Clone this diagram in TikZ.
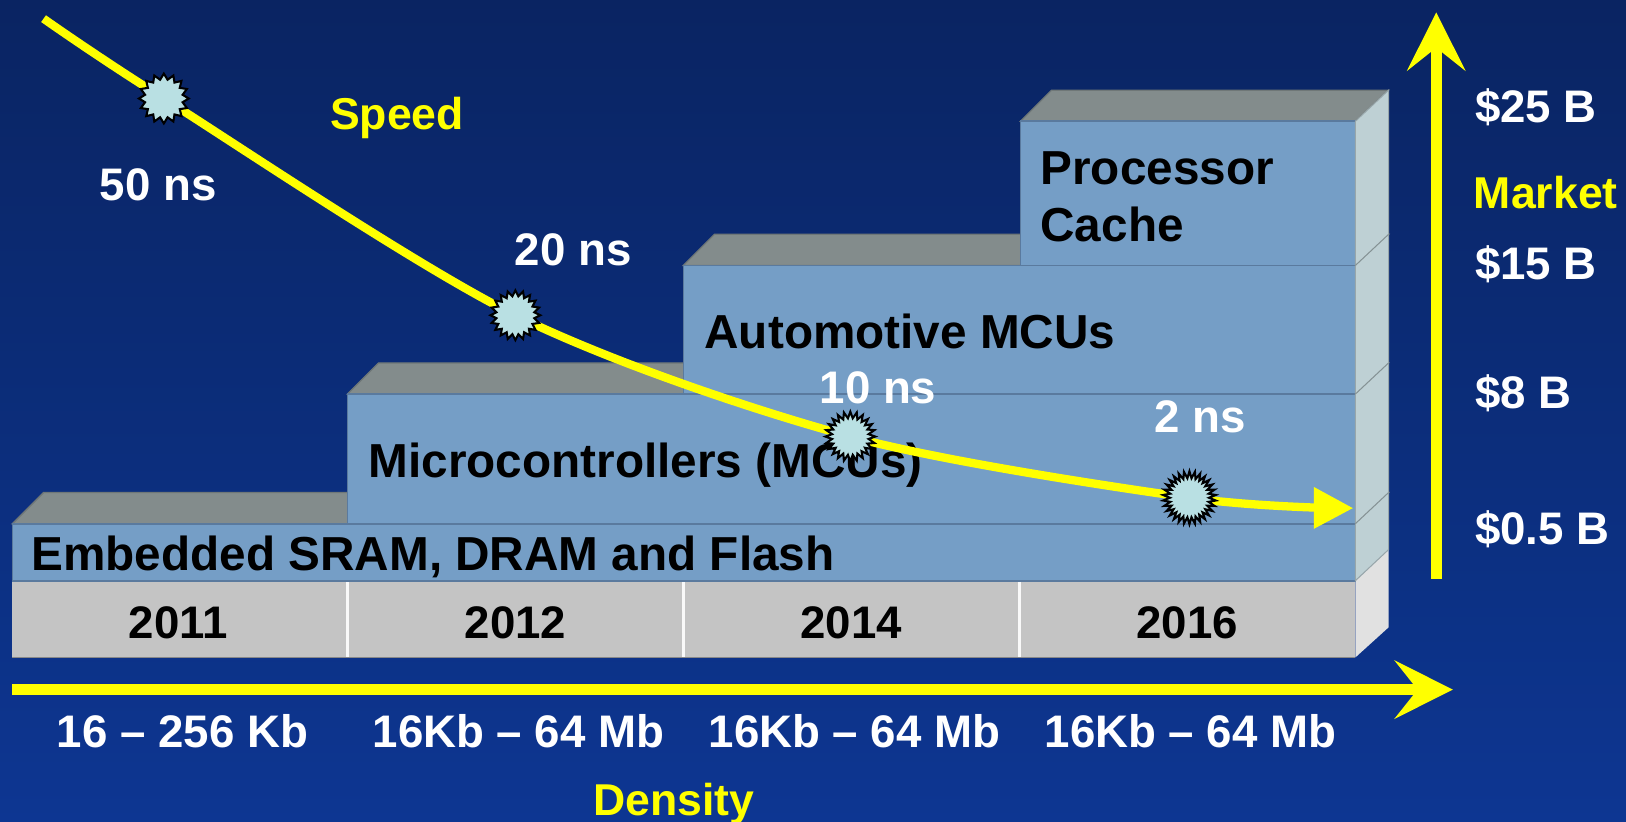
\documentclass[tikz,border=0pt]{standalone}
\usepackage{fontspec}
\setmainfont{Liberation Sans}
\usetikzlibrary{arrows.meta,shapes.geometric}
\definecolor{bgtop}{RGB}{10,36,98}
\definecolor{bgbot}{RGB}{13,54,146}
\definecolor{frontc}{RGB}{117,158,198}
\definecolor{topc}{RGB}{131,140,140}
\definecolor{sidec}{RGB}{190,208,212}
\definecolor{basec}{RGB}{196,196,196}
\definecolor{basesidec}{RGB}{225,225,225}
\definecolor{edgec}{RGB}{90,122,158}
\definecolor{yel}{RGB}{255,255,0}
\definecolor{starc}{RGB}{185,224,227}
\begin{document}
\begin{tikzpicture}[x=0.5pt,y=-0.5pt,
  blk/.style={fill=frontc,draw=edgec,line width=0.8pt},
  topface/.style={fill=topc,draw=topc!85!black,line width=0.6pt},
  sideface/.style={fill=sidec,draw=sidec!80!black,line width=0.5pt},
  blktext/.style={font=\fontsize{23}{27}\selectfont\bfseries,text=black,inner sep=0pt},
  yeartext/.style={font=\fontsize{22}{26}\selectfont\bfseries,text=black,inner sep=0pt},
  wlab/.style={font=\fontsize{22}{26}\selectfont\bfseries,text=white,inner sep=0pt},
  ylab/.style={font=\fontsize{21.5}{26}\selectfont\bfseries,text=yel,inner sep=0pt},
  burst/.style={star,star points=16,star point ratio=1.3,minimum size=24pt,inner sep=0pt,fill=starc,draw=black,line width=1pt},
  axis/.style={draw=yel,line width=5.5pt,-{Stealth[length=28pt,width=28pt,inset=11pt]}},
  speedline/.style={draw=yel,line width=4pt,-{Triangle[length=19pt,width=19pt]}}
]
% background
\shade[top color=bgtop,bottom color=bgbot] (0,0) rectangle (1568,792);
\useasboundingbox (0,0) rectangle (1568,792);

% base (years)
\fill[basec] (12,560) rectangle (1307,634);
\draw[basec!70!black,line width=0.6pt] (12,634) -- (1307,634);
\foreach \xx in {335,659,983}{\draw[white!90!basec,line width=1.2pt] (\xx,560) -- (\xx,634);}
\fill[basesidec] (1307,560) -- (1339,530) -- (1339,605) -- (1307,634) -- cycle;

% embedded block
\filldraw[topface] (12,505) -- (42,475) -- (1339,475) -- (1307,505) -- cycle;
\filldraw[blk] (12,505) rectangle (1307,560);
% MCU block
\filldraw[topface] (335,380) -- (365,350) -- (1339,350) -- (1307,380) -- cycle;
\filldraw[blk] (335,380) rectangle (1307,505);
% automotive block
\filldraw[topface] (659,256) -- (689,226) -- (1339,226) -- (1307,256) -- cycle;
\filldraw[blk] (659,256) rectangle (1307,380);
% processor cache block
\filldraw[topface] (984,117) -- (1014,87) -- (1339,87) -- (1307,117) -- cycle;
\filldraw[blk] (984,117) rectangle (1307,256);
% right side face
\filldraw[sideface] (1307,117) -- (1339,87) -- (1339,530) -- (1307,560) -- cycle;
\foreach \yy in {256,380,505}{\draw[sidec!70!black,line width=0.5pt] (1307,\yy) -- (1339,\yy-30);}

% block texts
\node[blktext,anchor=base west] (proc) at (1003,178) {Processor};
\node[blktext,anchor=base west] (cache) at (1003,233) {Cache};
\node[blktext,anchor=base west] (auto) at (679,336) {Automotive MCUs};
\node[blktext,anchor=base west] (mcu) at (355,460) {Microcontrollers (MCUs)};
\node[blktext,anchor=base west] (emb) at (30,550) {Embedded SRAM, DRAM and Flash};

% years
\node[yeartext,anchor=base] (y1) at (172,616) {2011};
\node[yeartext,anchor=base] (y2) at (497,616) {2012};
\node[yeartext,anchor=base] (y3) at (821,616) {2014};
\node[yeartext,anchor=base] (y4) at (1145,616) {2016};

% density axis
\coordinate (hstart) at (12,665);
\coordinate (hend) at (1401,665);
\draw[axis] (hstart) -- (hend);
\node[wlab,anchor=base] (d1) at (176,721) {16 -- 256 Kb};
\node[wlab,anchor=base] (d2) at (500,721) {16Kb -- 64 Mb};
\node[wlab,anchor=base] (d3) at (824,721) {16Kb -- 64 Mb};
\node[wlab,anchor=base] (d4) at (1148,721) {16Kb -- 64 Mb};
\node[ylab,anchor=base] (dens) at (650,786) {Density};

% market axis
\coordinate (vstart) at (1385,558);
\coordinate (vend) at (1385,12);
\draw[axis] (vstart) -- (vend);
\node[wlab,anchor=base west] (m25) at (1422,118) {\$25 B};
\node[ylab,anchor=base west] (mkt) at (1421,201) {Market};
\node[wlab,anchor=base west] (m15) at (1422,270) {\$15 B};
\node[wlab,anchor=base west] (m8) at (1422,394) {\$8 B};
\node[wlab,anchor=base west] (m05) at (1422,525) {\$0.5 B};

% speed labels
\node[ylab,anchor=base west] (speed) at (318,125) {Speed};
\node[wlab,anchor=base west] (t50) at (96,193) {50 ns};
\node[wlab,anchor=base west] (t20) at (496,256) {20 ns};
\node[wlab,anchor=base west] (t10) at (790,389) {10 ns};
\node[wlab,anchor=base west] (t2) at (1113,417) {2 ns};

% speed curve
\coordinate (c0) at (42,18);
\coordinate (p1) at (158,95);
\coordinate (p2) at (497,304);
\coordinate (p3) at (820,421);
\coordinate (p4) at (1147,480);
\coordinate (c5) at (1305,490);
\draw[speedline] plot[smooth,tension=0.5] coordinates {(c0) (p1) (p2) (p3) (p4) (c5)};
\node[burst] (s1) at (p1) {};
\node[burst,star points=20] (s2) at (p2) {};
\node[burst,star points=24,star point ratio=1.35] (s3) at (p3) {};
\node[burst,star points=30,star point ratio=1.35,minimum size=25.5pt] (s4) at (p4) {};
\end{tikzpicture}
\end{document}
